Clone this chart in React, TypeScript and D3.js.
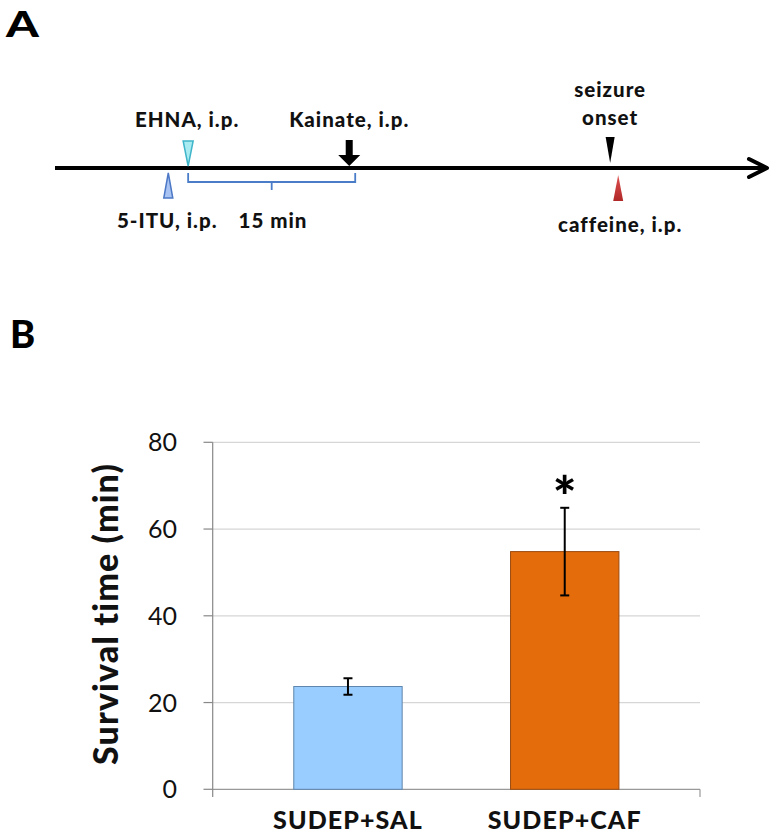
import React from "react";
import * as d3 from "d3";

// ---------- Panel B data ----------
const groups = ["SUDEP+SAL", "SUDEP+CAF"];
const survivalMean = [23.7, 54.8];
const survivalSE = [1.9, 10.1];
const barColors = ["#99ccff", "#e46c0a"];
const barStrokes = ["#5f86ad", "#9a4a10"];
const significant = [false, true];
const yTicks = [0, 20, 40, 60, 80];

// ---------- Panel A data (timeline, minutes relative to EHNA) ----------
const timelineRange = [-12.4, 54];
const eventNames = ["EHNA", "5-ITU", "Kainate", "seizure onset", "caffeine"];
const eventTimes = [0, -1.85, 15, 39.3, 40.05];
const eventLabels = ["EHNA, i.p.", "5-ITU, i.p.", "Kainate, i.p.", "seizure|onset", "caffeine, i.p."];
const intervalLabel = "15 min";

const FONT = "Lato, 'Open Sans', 'DejaVu Sans', sans-serif";
const LS = 1.0; // letter spacing for bold labels

export default function App() {
  // ---- Panel A scale ----
  const tx = d3.scaleLinear().domain(timelineRange).range([55, 768]);
  const lineY = 168;
  const xE = tx(eventTimes[0]);
  const xI = tx(eventTimes[1]);
  const xK = tx(eventTimes[2]);
  const xS = tx(eventTimes[3]);
  const xC = tx(eventTimes[4]);
  const [seizL1, seizL2] = eventLabels[3].split("|");

  // ---- Panel B scales ----
  const x = d3.scaleBand<string>().domain(groups).range([212.7, 700]).paddingInner(0.5).paddingOuter(0.374);
  const y = d3.scaleLinear().domain([0, 80]).range([789.3, 442.3]);
  const bw = x.bandwidth();

  const lab = { fontSize: 20.5, fontWeight: 900, textAnchor: "middle" as const, fill: "#111", letterSpacing: LS };

  return (
    <svg width={777} height={840} style={{ position: "absolute", left: 0, top: 0, background: "#fff" }} fontFamily={FONT}>
      {/* Panel labels */}
      <text x={6} y={37} fontSize={36} fontWeight={900} fill="#000" transform="translate(6,37) scale(1.3,1) translate(-6,-37)">A</text>
      <text x={10} y={348} fontSize={38} fontWeight={900} fill="#000">B</text>

      {/* ---------- Panel A ---------- */}
      <g>
        <line x1={tx(timelineRange[0])} x2={tx(timelineRange[1]) - 2} y1={lineY} y2={lineY} stroke="#000" strokeWidth={4} />
        <path d={`M${tx(timelineRange[1]) - 19},${lineY - 9} L${tx(timelineRange[1]) - 1},${lineY} L${tx(timelineRange[1]) - 19},${lineY + 9}`}
          fill="none" stroke="#000" strokeWidth={4} strokeLinecap="round" strokeLinejoin="round" />

        {/* EHNA cyan triangle pointing down */}
        <path d={`M${xE - 5},141 L${xE + 5},141 L${xE},166 Z`} fill="#a8ecf2" stroke="#3fb5c9" strokeWidth={1.5} />
        <text x={xE - 1} y={127} {...lab}>{eventLabels[0]}</text>

        {/* 5-ITU blue triangle pointing up */}
        <path d={`M${xI},173 L${xI + 4.5},198 L${xI - 4.5},198 Z`} fill="#a9c4f2" stroke="#4c78c6" strokeWidth={1.5} />
        <text x={xI - 1} y={228} {...lab}>{eventLabels[1]}</text>

        {/* 15 min bracket */}
        <path d={`M${xE},173 L${xE},182 L${xK + 6},182 L${xK + 6},173 M${(xE + xK + 6) / 2},182 L${(xE + xK + 6) / 2},190`}
          fill="none" stroke="#4a7cc8" strokeWidth={1.8} />
        <text x={273} y={228} {...lab}>{intervalLabel}</text>

        {/* Kainate black arrow */}
        <path d={`M${xK - 3.5},140 L${xK + 3.5},140 L${xK + 3.5},155 L${xK + 11},155 L${xK},166 L${xK - 11},155 L${xK - 3.5},155 Z`} fill="#000" />
        <text x={xK + 0} y={127} {...lab}>{eventLabels[2]}</text>

        {/* Seizure onset black triangle */}
        <path d={`M${xS - 4.5},137 L${xS + 4.5},137 L${xS},163 Z`} fill="#000" />
        <text x={xS} y={97} {...lab}>{seizL1}</text>
        <text x={xS} y={125} {...lab}>{seizL2}</text>

        {/* Caffeine red triangle */}
        <defs>
          <linearGradient id="redg" x1="0" y1="0" x2="0" y2="1">
            <stop offset="0" stopColor="#e05050" />
            <stop offset="1" stopColor="#b02828" />
          </linearGradient>
        </defs>
        <path d={`M${xC},175 L${xC + 5},201 L${xC - 5},201 Z`} fill="url(#redg)" />
        <text x={xC + 2} y={232} {...lab}>{eventLabels[4]}</text>
      </g>

      {/* ---------- Panel B ---------- */}
      <g>
        {/* gridlines */}
        {yTicks.map((t) => (
          <line key={"g" + t} x1={212.7} x2={700} y1={y(t)} y2={y(t)} stroke={t === 0 ? "#999" : "#d6d6d6"} strokeWidth={1.2} />
        ))}
        {/* y axis */}
        <line x1={212.7} x2={212.7} y1={y(80)} y2={797} stroke="#888" strokeWidth={1.2} />
        <line x1={700} x2={700} y1={y(0)} y2={797} stroke="#999" strokeWidth={1.2} />
        {yTicks.map((t) => (
          <g key={"t" + t}>
            <line x1={203.5} x2={212.7} y1={y(t)} y2={y(t)} stroke="#888" strokeWidth={1.2} />
            <text x={177} y={y(t)} dy="0.36em" fontSize={25} textAnchor="end" fill="#111">{t}</text>
          </g>
        ))}

        {/* bars */}
        {groups.map((g, i) => (
          <rect key={g} x={x(g)} y={y(survivalMean[i])} width={bw} height={y(0) - y(survivalMean[i])}
            fill={barColors[i]} stroke={barStrokes[i]} strokeWidth={1} />
        ))}
        {/* error bars */}
        {groups.map((g, i) => {
          const cx = (x(g) as number) + bw / 2;
          const top = y(survivalMean[i] + survivalSE[i]);
          const bot = y(survivalMean[i] - survivalSE[i]);
          return (
            <g key={"e" + g} stroke="#000" strokeWidth={2}>
              <line x1={cx} x2={cx} y1={top} y2={bot} />
              <line x1={cx - 4.5} x2={cx + 4.5} y1={top} y2={top} />
              <line x1={cx - 4.5} x2={cx + 4.5} y1={bot} y2={bot} />
            </g>
          );
        })}
        {/* significance */}
        {groups.map((g, i) =>
          significant[i] ? (
            <text key={"s" + g} x={(x(g) as number) + bw / 2} y={y(survivalMean[i] + survivalSE[i]) + 9}
              fontSize={56} fontWeight={900} textAnchor="middle" fill="#000">*</text>
          ) : null
        )}

        {/* x labels */}
        {groups.map((g) => (
          <text key={"l" + g} x={(x(g) as number) + bw / 2} y={829} fontSize={25} fontWeight={900} letterSpacing={1.1} textAnchor="middle" fill="#111">{g}</text>
        ))}

        {/* y title */}
        <text transform={`translate(118,614) rotate(-90)`} fontSize={34} fontWeight={900} letterSpacing={1.1} textAnchor="middle" fill="#111">Survival time (min)</text>
      </g>
    </svg>
  );
}
